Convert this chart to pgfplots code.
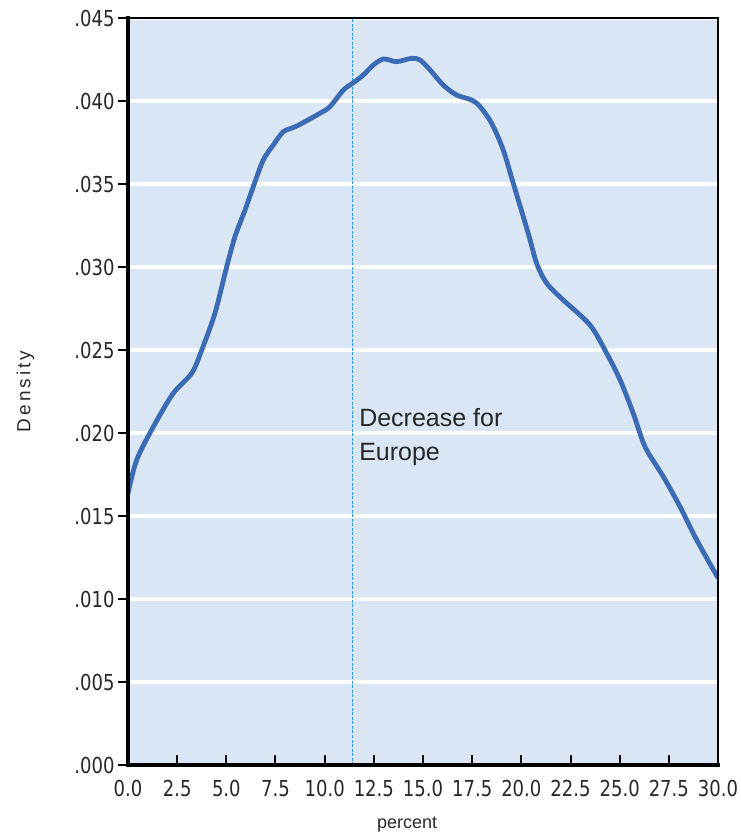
\documentclass[border=0pt]{standalone}
\usepackage{pgfplots}
\pgfplotsset{compat=1.18}
\usepackage{fontspec}
\setmainfont{Liberation Sans}
\newfontfamily\tickfont[FakeStretch=0.91]{DejaVu Sans Condensed}
\definecolor{panel}{RGB}{219,230,245}
\definecolor{curve}{RGB}{58,107,180}
\definecolor{refline}{RGB}{40,150,255}
\definecolor{ticktext}{RGB}{40,40,40}
\begin{document}
\begin{tikzpicture}
\begin{axis}[
  scale only axis,
  width=590pt, height=747pt,
  xmin=0, xmax=30, ymin=0, ymax=0.045,
  scaled y ticks=false,
  axis background/.style={fill=panel},
  axis line style={draw=none},
  xtick={0,2.5,...,30},
  xticklabels={0.0,2.5,5.0,7.5,10.0,12.5,15.0,17.5,20.0,22.5,25.0,27.5,30.0},
  ytick={0,0.005,0.01,0.015,0.02,0.025,0.03,0.035,0.04,0.045},
  yticklabels={.000,.005,.010,.015,.020,.025,.030,.035,.040,.045},
  xtick pos=bottom, ytick pos=left,
  xtick align=inside, ytick align=outside,
  major tick length=10pt,
  every tick/.style={draw=black, line width=2pt},
  ymajorgrids,
  major grid style={draw=white, line width=4pt},
  ticklabel style={font=\fontsize{22}{26}\selectfont\tickfont, text=ticktext},
  xticklabel style={yshift=-12pt},
  yticklabel style={xshift=0pt},
  xlabel={percent},
  ylabel={\addfontfeature{LetterSpace=16}Density},
  xlabel style={font=\fontsize{18}{21}\selectfont, text=ticktext, at={(axis description cs:0.473,0)}, anchor=north, yshift=-48pt},
  ylabel style={font=\fontsize{19}{22}\selectfont, text=ticktext, at={(axis description cs:-0.174,0.5)}, anchor=center, rotate=0},
  clip mode=individual,
]
% vertical marker line
\addplot[refline, line width=1pt, dash pattern=on 3pt off 1.5pt] coordinates {(11.4,0) (11.4,0.045)};
% kernel density estimate
\addplot[curve, line width=4.8pt, smooth, tension=0.5] coordinates {
(0,0.01637) (0.44,0.01837) (1.29,0.02038) (2.30,0.02239) (3.24,0.02360)
(3.75,0.0250) (4.42,0.02721) (5.02,0.03002) (5.44,0.03183) (5.95,0.03343)
(6.37,0.03484) (6.88,0.03645) (7.39,0.03735) (7.90,0.03815) (8.58,0.03849)
(9.76,0.03926) (10.27,0.03966) (10.95,0.04066) (11.46,0.04110) (11.97,0.04157)
(12.48,0.04217) (13.0,0.04253) (13.66,0.04237) (14.42,0.04257) (14.85,0.04247)
(15.36,0.04187) (16.03,0.04096) (16.71,0.04036) (17.48,0.04006) (17.90,0.03966)
(18.49,0.03866) (19.08,0.03705) (19.59,0.03504) (20.35,0.03203) (20.78,0.03022)
(21.29,0.02902) (22.13,0.02801) (23.49,0.02651) (24.34,0.0248) (25.02,0.0232)
(25.69,0.02119) (26.29,0.01917) (27.22,0.01737) (28.07,0.01556) (28.92,0.01355)
(30.0,0.01127)
};
% frame: heavier left and bottom edges
\draw[black, line width=2.5pt] (rel axis cs:0,1) -- (rel axis cs:1,1) -- (rel axis cs:1,0);
\draw[black, line width=3.5pt, line cap=rect] (rel axis cs:0,1) -- (rel axis cs:0,0) -- (rel axis cs:1,0);
\node[anchor=north west, align=left, font=\fontsize{25}{34}\selectfont, text=black!85, inner sep=0pt]
  at (axis cs:11.75,0.0215) {Decrease for\\Europe};
\coordinate (sw) at (rel axis cs:0,0);
\coordinate (ne) at (rel axis cs:1,1);
\end{axis}
\pgfresetboundingbox
\path[use as bounding box] ([shift={(-128pt,-70pt)}]sw) rectangle ([shift={(23pt,18pt)}]ne);
\end{tikzpicture}
\end{document}
